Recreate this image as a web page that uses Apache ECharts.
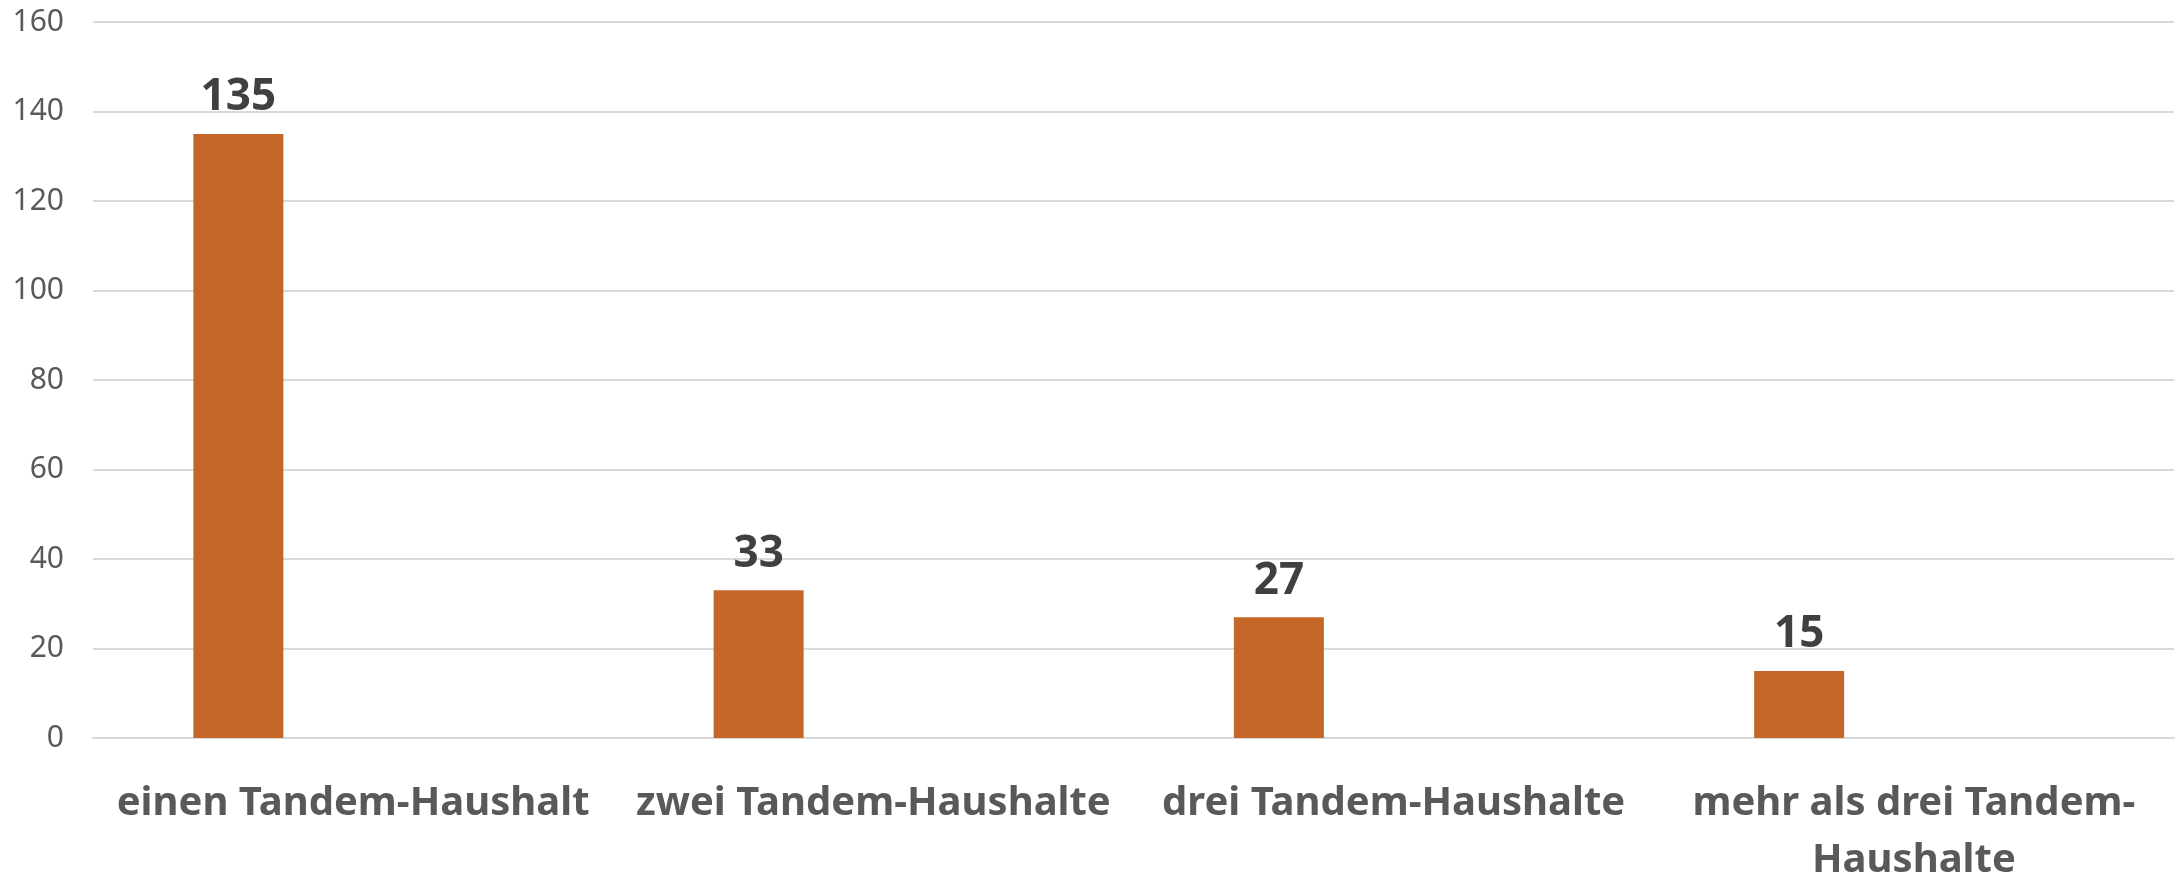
<!DOCTYPE html>
<html>
<head>
<meta charset="utf-8">
<script src="https://cdn.jsdelivr.net/npm/echarts@6/dist/echarts.min.js"></script>
<style>
html,body{margin:0;padding:0;background:#fff;}
#chart{width:2178px;height:876px;}
</style>
</head>
<body>
<div id="chart"></div>
<script>
const categories = ['einen Tandem-Haushalt', 'zwei Tandem-Haushalte', 'drei Tandem-Haushalte', 'mehr als drei Tandem-\nHaushalte'];
const values = [135, 33, 27, 15];
const yTicks = [0, 20, 40, 60, 80, 100, 120, 140, 160];

const chart = echarts.init(document.getElementById('chart'), null, {renderer: 'canvas'});
chart.setOption({
  animation: false,
  backgroundColor: '#ffffff',
  grid: {left: 93, right: 4, top: 22, bottom: 138, containLabel: false, outerBoundsMode: 'none'},
  xAxis: {
    type: 'category',
    data: categories,
    axisTick: {show: false},
    axisLine: {show: true, lineStyle: {color: '#D9D9D9', width: 2}},
    axisLabel: {
      interval: 0,
      margin: 37,
      color: '#595959',
      fontFamily: 'Noto Sans',
      fontWeight: 'bold',
      fontSize: 40,
      lineHeight: 57
    }
  },
  yAxis: {
    type: 'value',
    min: yTicks[0],
    max: yTicks[yTicks.length - 1],
    interval: yTicks[1] - yTicks[0],
    axisLine: {show: false},
    axisTick: {show: false},
    splitLine: {lineStyle: {color: '#D9D9D9', width: 2}},
    axisLabel: {
      margin: 29,
      color: '#595959',
      fontFamily: 'Noto Sans',
      fontSize: 30
    }
  },
  series: [
    {
      type: 'bar',
      data: values,
      barWidth: 90,
      barGap: '155%',
      itemStyle: {color: '#C46628'},
      label: {
        show: true,
        position: 'top',
        distance: 14,
        color: '#404040',
        fontFamily: 'Noto Sans',
        fontWeight: 'bold',
        fontSize: 44,
        lineHeight: 44
      }
    },
    {
      type: 'bar',
      data: values.map(() => null),
      barWidth: 90,
      silent: true
    }
  ]
});
</script>
</body>
</html>
